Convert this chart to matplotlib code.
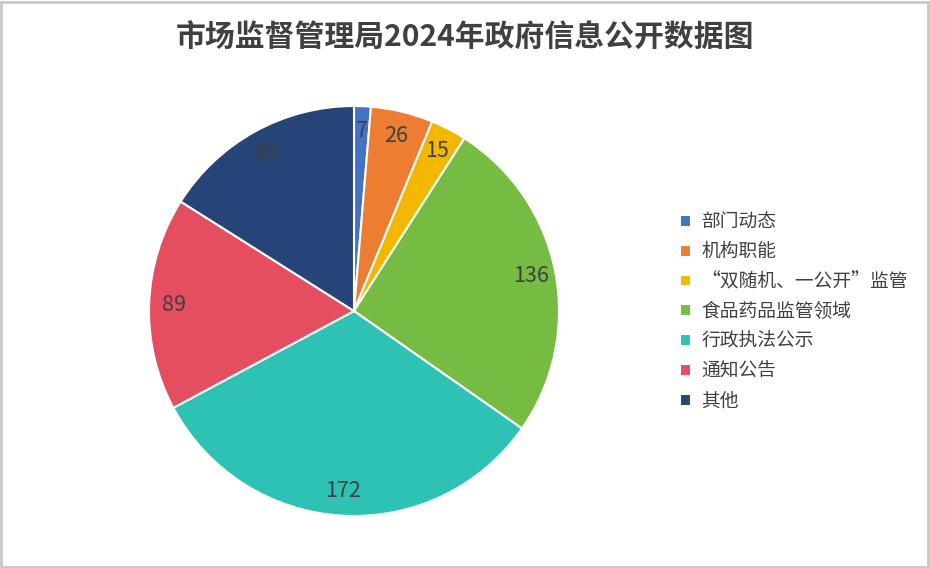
import matplotlib.pyplot as plt
from matplotlib.patches import Rectangle

plt.rcParams['font.family'] = ['Noto Sans CJK SC', 'DejaVu Sans']

categories = ['部门动态', '机构职能', '“双随机、一公开”监管', '食品药品监管领域',
              '行政执法公示', '通知公告', '其他']
values = [7, 26, 15, 136, 172, 89, 85]
colors = ['#4472C4', '#ED7D31', '#F2B800', '#76BC43', '#2EC2B5', '#E54D60', '#264478']

fig = plt.figure(figsize=(9.3, 5.68), dpi=100)

# pie centre ~ (354, 311) px, radius ~205 px
r_px = 205
ax = fig.add_axes([(354 - r_px) / 930, 1 - (311 + r_px) / 568, 2 * r_px / 930, 2 * r_px / 568])
wedges, texts = ax.pie(values, colors=colors, startangle=90, counterclock=False,
                       labels=[str(v) for v in values], labeldistance=0.88,
                       wedgeprops=dict(edgecolor='white', linewidth=1.5),
                       textprops=dict(fontsize=15.5, color='#404040'))
for t in texts:
    t.set_ha('center')
    t.set_va('center')
ax.set_xlim(-1, 1)
ax.set_ylim(-1, 1)
ax.set_aspect('equal')

fig.text(465 / 930, 1 - 38 / 568, '市场监督管理局2024年政府信息公开数据图',
         ha='center', va='center', fontsize=21.5, fontweight='bold', color='#404040')

leg = fig.legend(wedges, categories, loc='upper left',
                 bbox_to_anchor=(672 / 930, 1 - 204 / 568), frameon=False,
                 fontsize=13.5, labelcolor='#404040', handlelength=0.6, handleheight=0.6,
                 handletextpad=0.55, labelspacing=0.47, borderaxespad=0)

fig.patches.append(Rectangle((0.001, 0.001), 0.997, 0.996, transform=fig.transFigure,
                             fill=False, edgecolor='#C8C8C8', linewidth=2))

plt.savefig('out.png', dpi=100)
